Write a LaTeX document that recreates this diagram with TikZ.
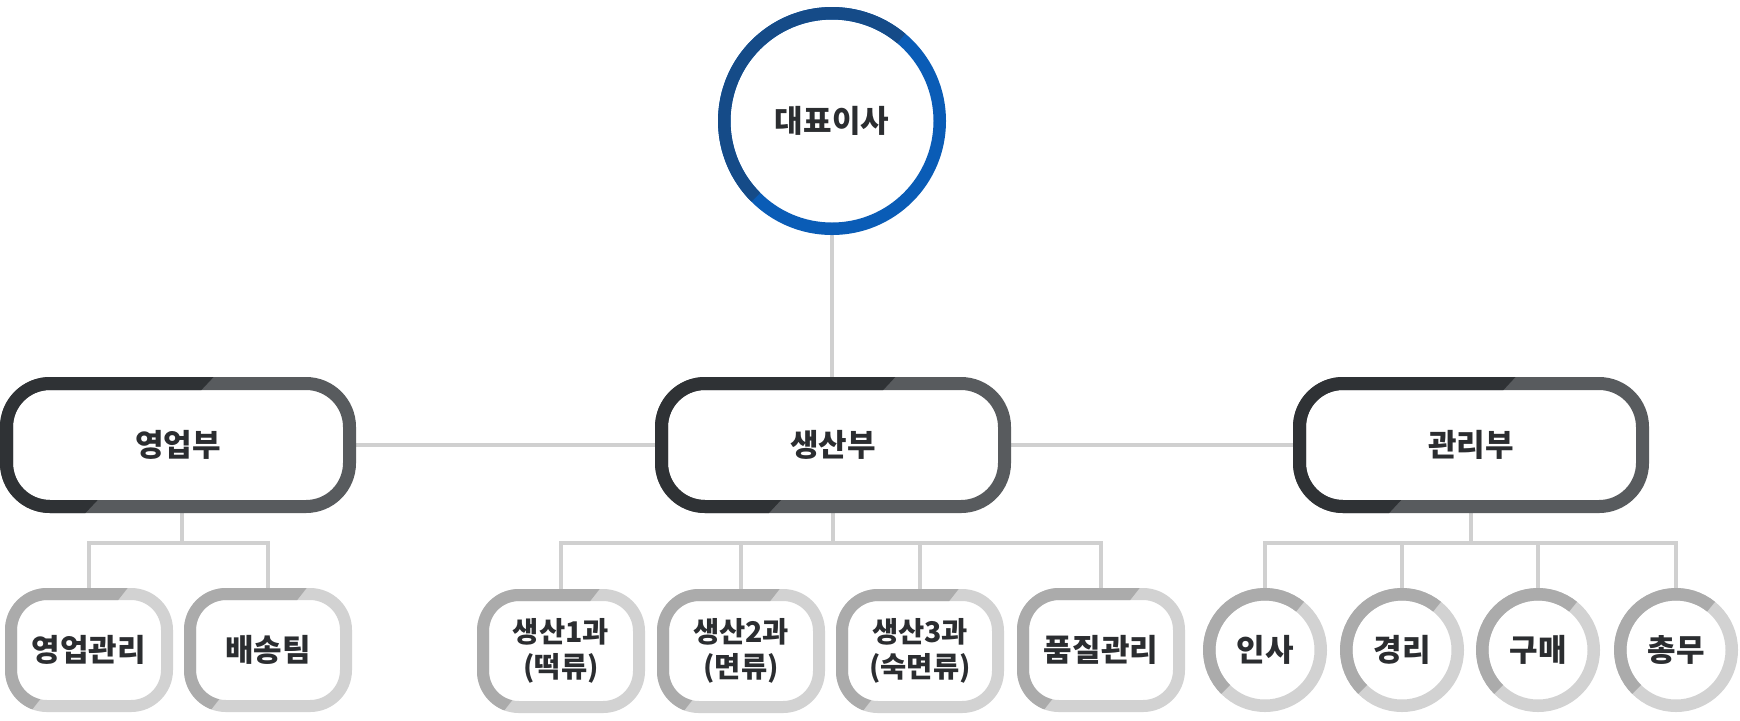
\documentclass[tikz,border=0pt]{standalone}
\usepackage{fontspec}
\setmainfont{Noto Sans CJK KR}
\usetikzlibrary{calc}
\definecolor{bdark}{HTML}{2F3235}
\definecolor{blight}{HTML}{585B5E}
\definecolor{gdark}{HTML}{ABABAB}
\definecolor{glight}{HTML}{D2D2D2}
\definecolor{udark}{HTML}{154B88}
\definecolor{ulight}{HTML}{0A5CB6}
\definecolor{connc}{HTML}{D0D0D0}
\definecolor{txt}{HTML}{2B2D30}
% #1 node, #2 dark, #3 light, #4 ring style, #5 half line width, #6 top split, #7 bottom split
\newcommand\ringbox[7]{%
  \draw[#3,#4] ([shift={(#5,-#5)}]#1.north west) rectangle ([shift={(-#5,#5)}]#1.south east);
  \begin{scope}
    \clip ($(#1.north west)!#6!(#1.north east)$) -- ($(#1.south west)!#7!(#1.south east)$)
      -- ($(#1.south west)!#7!(#1.south east)+(0,-4pt)$) -- ($(#1.south west)+(-4pt,-4pt)$)
      -- ($(#1.north west)+(-4pt,4pt)$) -- ($(#1.north west)!#6!(#1.north east)+(0,4pt)$) -- cycle;
    \draw[#2,#4] ([shift={(#5,-#5)}]#1.north west) rectangle ([shift={(-#5,#5)}]#1.south east);
  \end{scope}}
% #1 node, #2 dark, #3 light, #4 ring style, #5 radius, #6 start angle, #7 end angle
\newcommand\ringcirc[7]{%
  \draw[#3,#4] (#1.center) circle[radius=#5];
  \begin{scope}
    \clip (#1.center) -- ++(#6:90pt) arc[start angle=#6, end angle=#7, radius=90pt] -- cycle;
    \draw[#2,#4] (#1.center) circle[radius=#5];
  \end{scope}}
\begin{document}
\begin{tikzpicture}[x=0.5pt,y=-0.5pt,
  every node/.style={inner sep=0pt, outer sep=0pt, text=txt, align=center},
  lbl/.style={font=\fontsize{15.5pt}{18pt}\selectfont\bfseries},
  topc/.style={circle, minimum size=114pt, lbl},
  bigb/.style={rectangle, minimum width=178pt, minimum height=68pt, lbl},
  smallb/.style={rectangle, minimum width=84pt, minimum height=62pt, lbl},
  twoline/.style={font=\fontsize{14.25pt}{17.5pt}\selectfont\bfseries},
  smallc/.style={circle, minimum size=62pt, lbl},
  conn/.style={draw=connc, line width=1.75pt},
  bigring/.style={line width=6.5pt, rounded corners=21.75pt},
  smallring/.style={line width=6pt, rounded corners=18pt},
  circring/.style={line width=6.25pt}
]
\fill[white] (0,0) rectangle (1740,720);
\useasboundingbox (0,0) rectangle (1740,720);

% nodes
\node[topc] (ceo) at (832,121) {대표이사};
\node[bigb] (sales) at (178,445) {영업부};
\node[bigb] (prod) at (833,445) {생산부};
\node[bigb] (admin) at (1471,445) {관리부};

\node[smallb] (s1) at (89,650) {영업관리};
\node[smallb] (s2) at (268,650) {배송팀};
\node[smallb,twoline] (p1) at (561,651) {생산1과\\(떡류)};
\node[smallb,twoline] (p2) at (741,651) {생산2과\\(면류)};
\node[smallb,twoline] (p3) at (920,651) {생산3과\\(숙면류)};
\node[smallb] (p4) at (1101,650) {품질관리};

\node[smallc] (a1) at (1265,650) {인사};
\node[smallc] (a2) at (1402,650) {경리};
\node[smallc] (a3) at (1538,650) {구매};
\node[smallc] (a4) at (1676,650) {총무};

% connectors
\draw[conn] (ceo.south) -- (ceo.south |- prod.north);
\draw[conn] (sales.east) -- (prod.west);
\draw[conn] (prod.east) -- (admin.west);
\foreach \c in {s1,s2}{\draw[conn] ([xshift=2pt]sales.south) -- ++(0,-15pt) -| (\c.north);}
\foreach \c in {p1,p2,p3,p4}{\draw[conn] (prod.south) -- ++(0,-15pt) -| (\c.north);}
\foreach \c in {a1,a2,a3,a4}{\draw[conn] (admin.south) -- ++(0,-15pt) -| (\c.north);}

% rings
\ringcirc{ceo}{udark}{ulight}{circring}{53.875pt}{50}{225}
\ringbox{sales}{bdark}{blight}{bigring}{3.25pt}{0.60}{0.24}
\ringbox{prod}{bdark}{blight}{bigring}{3.25pt}{0.675}{0.32}
\ringbox{admin}{bdark}{blight}{bigring}{3.25pt}{0.625}{0.27}
\foreach \c in {s1,s2,p1,p2,p3,p4}{\ringbox{\c}{gdark}{glight}{smallring}{3pt}{0.73}{0.15}}
\foreach \c in {a1,a2,a3,a4}{\ringcirc{\c}{gdark}{glight}{circring}{27.875pt}{51}{225}}
\end{tikzpicture}
\end{document}
